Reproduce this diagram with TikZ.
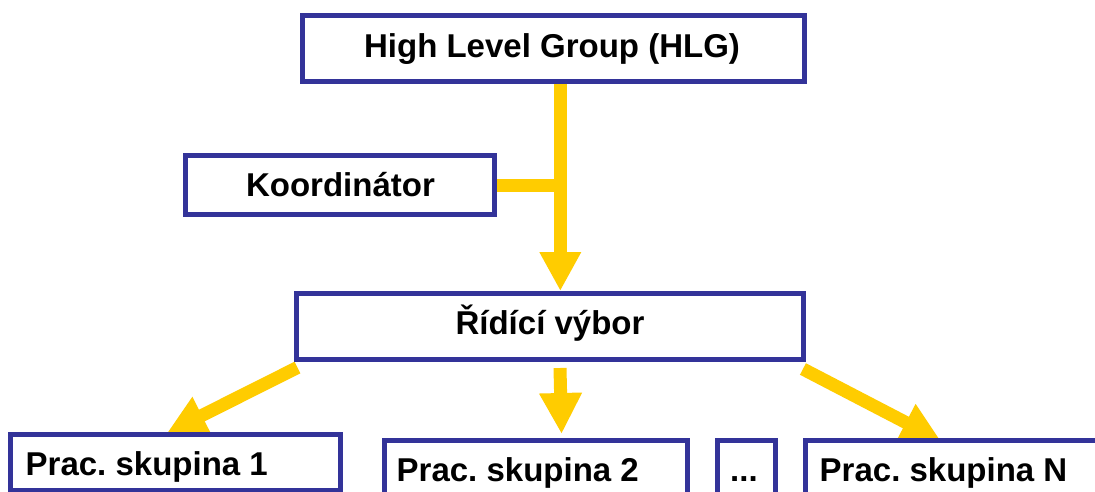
\documentclass[tikz,border=0pt]{standalone}
\usepackage{fontspec}
\setmainfont{Liberation Sans}
\frenchspacing
\usetikzlibrary{arrows.meta}
\pgfdeclarelayer{back}
\pgfdeclarelayer{bg}
\pgfsetlayers{back,bg,main}
\definecolor{navy}{RGB}{51,51,153}
\definecolor{gold}{RGB}{255,204,0}
\tikzset{
  box/.style={draw=navy, line width=5pt, fill=white, inner sep=0pt, rectangle},
  lbl/.style={inner sep=0pt, font=\fontsize{33}{40}\selectfont\bfseries},
  yline/.style={draw=gold, line width=13pt},
  yarrow/.style={draw=gold, line width=13pt, -{Triangle[width=39pt,length=39pt]}, fill=gold},
}
\begin{document}
\begin{tikzpicture}[x=1pt,y=-1pt]
\useasboundingbox (0,0) rectangle (1095,491);
\clip (0,0) rectangle (1095,491);
\begin{pgfonlayer}{back}
\fill[white] (0,0) rectangle (1095,491);
\end{pgfonlayer}

% boxes
\node[box, minimum width=501.7pt, minimum height=66pt] (hlg) at (553.3,48.8) {};
\node[box, minimum width=308.4pt, minimum height=58.4pt] (koord) at (340,185) {};
\node[box, minimum width=506.5pt, minimum height=66pt] (ridici) at (550.2,326.5) {};
\node[box, minimum width=329.4pt, minimum height=56pt] (p1) at (175.5,462.5) {};
\node[box, minimum width=303.5pt, minimum height=56pt] (p2) at (535.75,468.2) {};
\node[box, minimum width=58.3pt, minimum height=56pt] (dots) at (746.65,468.2) {};
\node[box, minimum width=311.7pt, minimum height=56pt] (pN) at (961.65,468.2) {};

% labels
\node[lbl, anchor=base] (thlg) at (552,57.5) {High Level Group (HLG)};
\node[lbl, anchor=base] (tkoord) at (340.5,196.7) {Koordinátor};
\node[lbl, anchor=base] (tridici) at (550,334.4) {Řídící výbor};
\node[lbl, anchor=base west] (tp1) at (25.5,475) {Prac. skupina 1};
\node[lbl, anchor=base west] (tp2) at (396.5,481) {Prac. skupina 2};
\node[lbl, anchor=base west] (tdots) at (730,481) {...};
\node[lbl, anchor=base west] (tpN) at (819.5,481) {Prac. skupina N};

% connectors
\begin{pgfonlayer}{bg}
\coordinate (stemtop) at ([xshift=7pt]hlg.south);
\draw[yarrow] (stemtop) -- ([xshift=10.1pt]ridici.north);
\draw[yline] (koord.east) -- (koord.east -| stemtop);
\draw[yarrow, -{Triangle[width=40pt,length=41pt]}] ([xshift=9.8pt,yshift=-6pt]ridici.south) -- ([xshift=25.8pt,yshift=3.7pt]p2.north);
\draw[yarrow] ([xshift=3pt,yshift=-5.5pt]ridici.south west) -- ([xshift=-8.5pt,yshift=-1pt]p1.north);
\draw[yarrow] ([xshift=-3pt,yshift=-7pt]ridici.south east) -- ([xshift=137.2pt,yshift=-2.8pt]pN.north west);
\end{pgfonlayer}
\end{tikzpicture}
\end{document}
